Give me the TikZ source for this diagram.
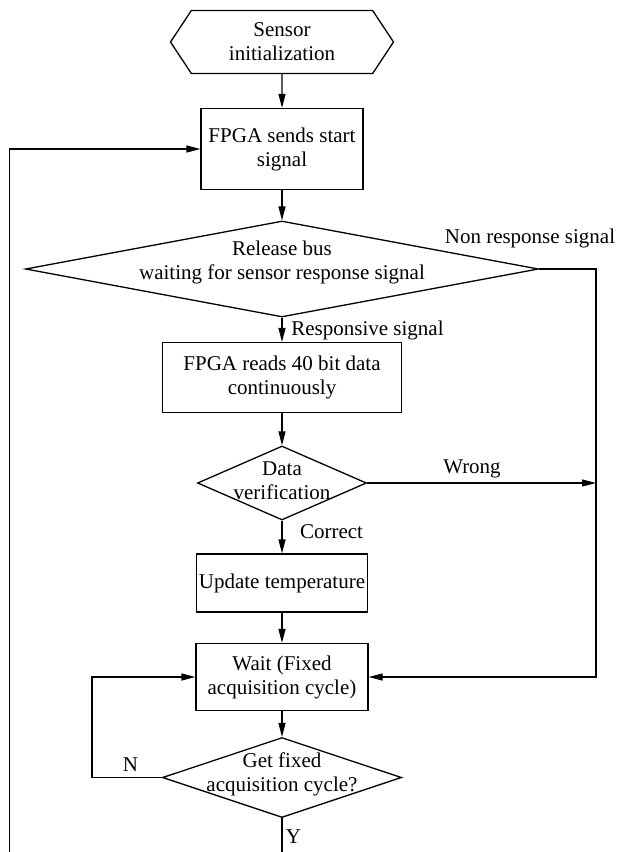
\documentclass[tikz,border=0pt]{standalone}
\usepackage{fontspec}
\setmainfont{Liberation Serif}
\usetikzlibrary{positioning, shapes.geometric, shapes.symbols, arrows.meta}

\begin{document}
\begin{tikzpicture}[
    x=1pt, y=-1pt,
    font=\fontsize{21}{24}\selectfont,
    procbox/.style={rectangle, draw, line width=1.3pt, align=center, inner sep=1pt},
    decision/.style={diamond, draw, line width=1.3pt, inner sep=0pt},
    termbox/.style={signal, signal to=west and east, signal pointer angle=113,
                    draw, line width=1.3pt, align=center, inner sep=1pt},
    flow/.style={line width=1.3pt, -{Triangle[length=14pt, width=7pt]}},
  ]
    \useasboundingbox (0,0) rectangle (618,852);

    % main column
    \node[termbox, minimum width=223, minimum height=63] (init) at (282,42) {Sensor\\initialization};
    \node[procbox, minimum width=162, minimum height=81] (send) at (282,149) {FPGA sends start\\signal};
    \node[decision, minimum width=513, minimum height=96,
          label={[align=center, yshift=7pt]center:Release bus\\waiting for sensor response signal}] (wbus) at (282,269) {};
    \node[procbox, minimum width=239, minimum height=70] (read) at (282,377.5) {FPGA reads 40 bit data\\continuously};
    \node[decision, minimum width=169, minimum height=74,
          label={[align=center, yshift=2.5pt]center:Data\\verification}] (verify) at (282,483) {};
    \node[procbox, minimum width=171, minimum height=58] (update) at (282,583) {Update temperature};
    \node[procbox, minimum width=172, minimum height=67] (wait) at (282,677) {Wait (Fixed\\acquisition cycle)};
    \node[decision, minimum width=239, minimum height=80,
          label={[align=center, yshift=3.5pt]center:Get fixed\\acquisition cycle?}] (cycle) at (282,777.5) {};

    % branch labels
    \node (nonresp) at (530,238) {Non response signal};
    \node (resp) at (367.5,330) {Responsive signal};
    \node (wrong) at (472,469) {Wrong};
    \node (correct) at (331.5,532) {Correct};
    \node (no) at (130.5,765) {N};
    \node (yes) at (293.5,837) {Y};

    \coordinate (rbus) at (596,0);
    \coordinate (bot) at (0,852);
    \coordinate (lbot) at (9.5,852);

    % straight flow
    \draw[flow] (init) -- (send);
    \draw[flow] (send) -- (wbus);
    \draw[flow] (wbus) -- (read);
    \draw[flow] (read) -- (verify);
    \draw[flow] (verify) -- (update);
    \draw[flow] (update) -- (wait);
    \draw[flow] (wait) -- (cycle);

    % error paths on the right
    \draw[flow] (wbus.east) -| (rbus |- wait.east) -- (wait.east);
    \draw[flow] (verify.east) -- (verify.east -| rbus);

    % waiting loop and restart
    \draw[flow] (cycle.west) -- ++(-70,0) |- (wait.west);
    \draw[line width=1.3pt] (cycle.south) -- (cycle.south |- bot);
    \draw[flow] (lbot) |- (send.west);
  \end{tikzpicture}
\end{document}
